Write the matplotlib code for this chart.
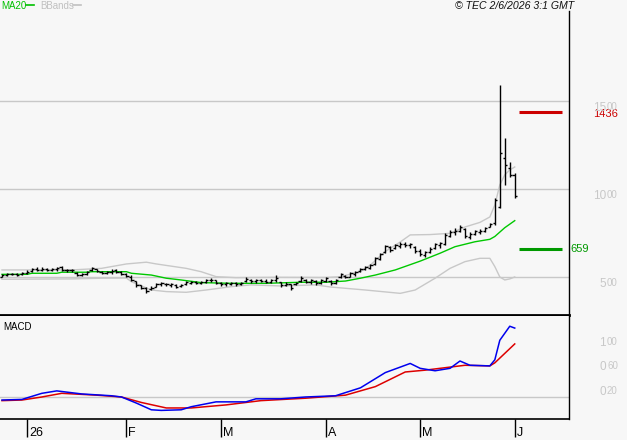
import matplotlib.pyplot as plt
import matplotlib.transforms as mtransforms

# figure size in pixels
W, H = 627, 440
BG = '#f7f7f7'
GRID = '#c8c8c8'

# daily ohlc bars, one per trading day
opens = [5.02, 5.10, 5.15, 5.16, 5.15, 5.22, 5.32, 5.45, 5.40, 5.44,
         5.42, 5.45, 5.55, 5.38, 5.40, 5.25, 5.10, 5.15, 5.40, 5.45,
         5.30, 5.22, 5.30, 5.40, 5.28, 5.15, 5.00, 4.75, 4.52, 4.38,
         4.30, 4.45, 4.60, 4.62, 4.55, 4.55, 4.48, 4.58, 4.68, 4.70,
         4.66, 4.72, 4.80, 4.80, 4.68, 4.58, 4.62, 4.66, 4.60, 4.75,
         4.85, 4.76, 4.80, 4.78, 4.74, 4.80, 4.70, 4.55, 4.58, 4.58,
         4.75, 4.85, 4.72, 4.78, 4.65, 4.78, 4.78, 4.66, 4.98, 5.05,
         5.02, 5.15, 5.32, 5.45, 5.50, 5.72, 6.02, 6.40, 6.70, 6.62,
         6.78, 6.85, 6.80, 6.70, 6.45, 6.25, 6.40, 6.62, 6.80, 6.90,
         7.35, 7.55, 7.62, 7.75, 7.25, 7.45, 7.55, 7.62, 7.85, 8.05,
         8.95, 11.76, 11.19, 10.80]
highs = [5.17, 5.23, 5.23, 5.22, 5.28, 5.40, 5.51, 5.57, 5.55, 5.51,
         5.50, 5.57, 5.65, 5.45, 5.45, 5.28, 5.22, 5.34, 5.57, 5.45,
         5.34, 5.34, 5.45, 5.45, 5.36, 5.23, 5.11, 4.77, 4.55, 4.43,
         4.49, 4.66, 4.72, 4.66, 4.66, 4.60, 4.60, 4.77, 4.77, 4.77,
         4.77, 4.89, 4.94, 4.83, 4.72, 4.72, 4.72, 4.72, 4.72, 5.00,
         4.89, 4.89, 4.89, 4.89, 4.89, 5.11, 4.72, 4.72, 4.60, 4.72,
         5.06, 4.89, 4.89, 4.83, 4.89, 5.00, 4.83, 4.89, 5.23, 5.11,
         5.28, 5.34, 5.51, 5.63, 5.74, 6.14, 6.36, 6.82, 6.76, 6.88,
         6.99, 6.99, 6.93, 6.76, 6.59, 6.48, 6.70, 6.93, 6.99, 7.50,
         7.67, 7.78, 7.95, 7.78, 7.56, 7.67, 7.70, 7.84, 8.07, 9.49,
         15.91, 12.90, 11.53, 10.91]
lows = [5.00, 5.06, 5.11, 5.08, 5.12, 5.17, 5.28, 5.34, 5.36, 5.34,
        5.35, 5.36, 5.36, 5.30, 5.30, 5.06, 5.05, 5.11, 5.36, 5.28,
        5.17, 5.17, 5.17, 5.23, 5.11, 5.00, 4.77, 4.43, 4.32, 4.09,
        4.26, 4.43, 4.49, 4.49, 4.43, 4.38, 4.43, 4.55, 4.60, 4.60,
        4.60, 4.66, 4.72, 4.60, 4.49, 4.49, 4.55, 4.49, 4.55, 4.72,
        4.66, 4.66, 4.72, 4.66, 4.66, 4.72, 4.43, 4.49, 4.26, 4.55,
        4.72, 4.66, 4.60, 4.55, 4.60, 4.72, 4.55, 4.60, 4.94, 4.94,
        5.00, 5.06, 5.28, 5.40, 5.45, 5.68, 5.97, 6.36, 6.42, 6.59,
        6.65, 6.70, 6.65, 6.36, 6.19, 6.14, 6.36, 6.59, 6.65, 6.82,
        7.27, 7.39, 7.56, 7.22, 7.16, 7.39, 7.45, 7.56, 7.84, 7.95,
        8.92, 10.23, 10.68, 9.49]
closes = [5.12, 5.15, 5.18, 5.14, 5.22, 5.30, 5.45, 5.40, 5.48, 5.42,
          5.46, 5.50, 5.40, 5.40, 5.38, 5.12, 5.18, 5.30, 5.50, 5.35,
          5.22, 5.30, 5.35, 5.28, 5.18, 5.06, 4.85, 4.55, 4.40, 4.20,
          4.35, 4.60, 4.66, 4.58, 4.60, 4.45, 4.52, 4.70, 4.72, 4.66,
          4.72, 4.80, 4.85, 4.68, 4.58, 4.64, 4.66, 4.58, 4.66, 4.90,
          4.78, 4.80, 4.78, 4.74, 4.82, 4.95, 4.55, 4.62, 4.40, 4.68,
          4.95, 4.72, 4.80, 4.66, 4.80, 4.92, 4.64, 4.80, 5.15, 5.00,
          5.20, 5.28, 5.45, 5.55, 5.68, 6.05, 6.30, 6.75, 6.55, 6.80,
          6.90, 6.80, 6.88, 6.45, 6.30, 6.40, 6.60, 6.85, 6.92, 7.40,
          7.55, 7.60, 7.85, 7.30, 7.45, 7.60, 7.62, 7.78, 8.00, 9.35,
          12.05, 11.36, 10.80, 9.60]

# indicator lines, read at bar positions
ma_idx = [0, 5, 6, 11, 12, 17, 18, 25, 26, 30, 33, 36, 40, 46, 53, 60, 65,
          69, 72, 75, 79, 84, 88, 91, 95, 98, 99, 100, 101, 102, 103]
ma20 = [5.15, 5.15, 5.21, 5.21, 5.27, 5.27, 5.30, 5.30, 5.21, 5.11, 4.93,
        4.83, 4.68, 4.64, 4.64, 4.70, 4.70, 4.77, 4.93, 5.11, 5.40, 5.90,
        6.35, 6.72, 7.00, 7.14, 7.30, 7.55, 7.80, 8.00, 8.20]

bb_up_idx = [0, 14, 20, 25, 29, 31, 37, 40, 43, 47, 55, 65, 68, 72, 74, 77,
             80, 82, 86, 90, 93, 96, 98, 99, 100, 101, 102, 103]
bb_upper = [5.40, 5.40, 5.49, 5.74, 5.84, 5.74, 5.49, 5.30, 5.02, 4.96,
            4.98, 4.97, 5.02, 5.30, 5.68, 6.45, 6.99, 7.39, 7.41, 7.48,
            7.84, 8.10, 8.41, 9.09, 10.23, 10.80, 11.08, 11.25]
bb_lo_idx = [0, 14, 20, 25, 26, 30, 33, 37, 41, 46, 50, 56, 63, 66, 73, 80,
             83, 87, 90, 93, 96, 98, 99, 100, 101, 102, 103]
bb_lower = [4.87, 4.89, 4.93, 4.94, 4.73, 4.26, 4.17, 4.13, 4.26, 4.45,
            4.55, 4.49, 4.55, 4.43, 4.26, 4.07, 4.26, 4.93, 5.49, 5.87,
            6.06, 6.06, 5.59, 5.00, 4.83, 4.89, 5.00]

# macd panel
macd_idx = [0, 4, 8, 11, 16, 22, 24, 27, 30, 32, 36, 38, 43, 49, 51, 56, 61,
            67, 72, 77, 82, 84, 87, 90, 92, 94, 98, 99, 100, 102, 103]
macd = [-0.05, -0.04, 0.06, 0.10, 0.05, 0.02, 0.00, -0.10, -0.21, -0.22,
        -0.21, -0.16, -0.08, -0.08, -0.03, -0.03, 0.00, 0.02, 0.15, 0.40,
        0.55, 0.47, 0.43, 0.47, 0.59, 0.52, 0.51, 0.61, 0.93, 1.16, 1.13]
signal_idx = [0, 4, 8, 12, 19, 24, 28, 33, 38, 45, 52, 61, 69, 75, 81, 85,
              93, 98, 99, 103]
signal = [-0.06, -0.05, 0.00, 0.06, 0.03, 0.00, -0.09, -0.18, -0.18, -0.13,
          -0.06, -0.02, 0.03, 0.17, 0.41, 0.44, 0.52, 0.51, 0.56, 0.87]

# target levels on the right
target_high = 14.36
target_low = 6.59
target_labels = ['1436', '659']

# axis labels
price_ticks = [15, 10, 5]
macd_ticks = [1.0, 0.6, 0.2]
date_ticks = [5, 25, 44, 65, 84, 103]
date_labels = ['26', 'F', 'M', 'A', 'M', 'J']


def px_box(x0, y0, x1, y1):
    # pixel box (top-left origin) -> figure fraction rect
    return [x0 / W, 1 - y1 / H, (x1 - x0) / W, (y1 - y0) / H]


def split_label(v):
    # stockcharts style: integer part big, cents as small raised digits
    whole = int(v)
    cents = int(round((v - whole) * 100))
    return str(whole), f'{cents:02d}'


def right_labels(ax, values):
    tr = mtransforms.blended_transform_factory(ax.transAxes, ax.transData)
    for v in values:
        big, small = split_label(v)
        ax.annotate(big, xy=(1, v), xycoords=tr, xytext=(37, -1),
                    textcoords='offset pixels', ha='right', va='top',
                    fontsize=8.5, color=GRID, family='Liberation Sans',
                    annotation_clip=False)
        ax.annotate(small, xy=(1, v), xycoords=tr, xytext=(38, -1),
                    textcoords='offset pixels', ha='left', va='top',
                    fontsize=7, color=GRID, family='Liberation Sans',
                    annotation_clip=False)


def style_axes(ax):
    ax.set_facecolor(BG)
    for side in ['left', 'top']:
        ax.spines[side].set_visible(False)
    ax.spines['right'].set_color('black')
    ax.spines['right'].set_linewidth(1.0)
    ax.spines['bottom'].set_color('black')
    ax.set_yticks([])


def main():
    fig = plt.figure(figsize=(W / 100, H / 100), dpi=100, facecolor=BG)
    ax = fig.add_axes(px_box(0, 11, 569, 315))
    mx = fig.add_axes(px_box(0, 316, 569, 419))
    style_axes(ax)
    style_axes(mx)
    ax.spines['bottom'].set_linewidth(2.0)
    mx.spines['bottom'].set_linewidth(1.2)

    xlim = (-0.4, 113.9)
    ax.set_xlim(*xlim)
    mx.set_xlim(*xlim)
    ax.set_ylim(2.84, 20.11)
    mx.set_ylim(-0.361, 1.328)

    # grid lines
    for v in price_ticks:
        ax.axhline(v, color=GRID, lw=1.0, zorder=1)
    mx.axhline(0, color=GRID, lw=1.0, zorder=1)

    # bollinger bands and ma20
    ax.plot(bb_up_idx, bb_upper, color=GRID, lw=1.0, zorder=2)
    ax.plot(bb_lo_idx, bb_lower, color=GRID, lw=1.0, zorder=2)
    ax.plot(ma_idx, ma20, color='#00c800', lw=1.0, zorder=3)

    # ohlc bars
    idx = list(range(len(closes)))
    ax.vlines(idx, lows, highs, color='black', lw=1.0, zorder=4)
    ax.hlines(opens, [i - 0.45 for i in idx], idx, color='black', lw=1.0, zorder=4)
    ax.hlines(closes, idx, [i + 0.45 for i in idx], color='black', lw=1.0, zorder=4)

    # target levels
    ax.hlines([target_high], 103.8, 112.4, color='#cc0000', lw=2.2, zorder=4)
    ax.hlines([target_low], 103.8, 112.4, color='#009900', lw=2.2, zorder=4)
    tr = mtransforms.blended_transform_factory(ax.transAxes, ax.transData)
    ax.annotate(target_labels[0], xy=(1, target_high), xycoords=tr, xytext=(24, -2),
                textcoords='offset pixels', ha='left', va='center', fontsize=8,
                color='#cc0000', family='Liberation Sans', annotation_clip=False)
    ax.annotate(target_labels[1], xy=(1, target_low), xycoords=tr, xytext=(1, 0),
                textcoords='offset pixels', ha='left', va='center', fontsize=8,
                color='#009900', family='Liberation Sans', annotation_clip=False)

    right_labels(ax, price_ticks)
    right_labels(mx, macd_ticks)

    ax.set_xticks([])

    # macd lines
    mx.plot(signal_idx, signal, color='#dd0000', lw=1.1, zorder=3)
    mx.plot(macd_idx, macd, color='#0000ee', lw=1.1, zorder=4)
    mx.text(0.006, 0.89, 'MACD', transform=mx.transAxes, fontsize=7,
            family='Liberation Sans', ha='left', va='center')

    # date ticks below the macd panel
    mx.set_xticks(date_ticks)
    mx.set_xticklabels([])
    mx.tick_params(axis='x', direction='out', length=13, width=1.0, color='black')
    for t, lab in zip(date_ticks, date_labels):
        mx.annotate(lab, xy=(t, 0), xycoords=('data', 'axes fraction'),
                    xytext=(2, -14), textcoords='offset pixels', ha='left',
                    va='center', fontsize=9, family='Liberation Sans',
                    annotation_clip=False)

    # header legend
    fig.text(1 / W, 1 - 6 / H, 'MA20', color='#00c000', fontsize=7,
             family='Liberation Sans', va='center')
    fig.lines.append(plt.Line2D([26 / W, 34 / W], [1 - 5 / H, 1 - 5 / H],
                                color='#00c000', lw=1.2, transform=fig.transFigure))
    fig.text(40 / W, 1 - 6 / H, 'BBands', color='#c0c0c0', fontsize=7,
             family='Liberation Sans', va='center')
    fig.lines.append(plt.Line2D([73 / W, 81 / W], [1 - 5 / H, 1 - 5 / H],
                                color='#c0c0c0', lw=1.2, transform=fig.transFigure))
    fig.text(455 / W, 1 - 6 / H, '\u00a9 TEC 2/6/2026 3:1 GMT', color='#111111',
             fontsize=7.6, style='italic', family='Liberation Sans', va='center')

    fig.savefig('out.png', dpi=100, facecolor=BG)
    plt.close(fig)


if __name__ == '__main__':
    main()
